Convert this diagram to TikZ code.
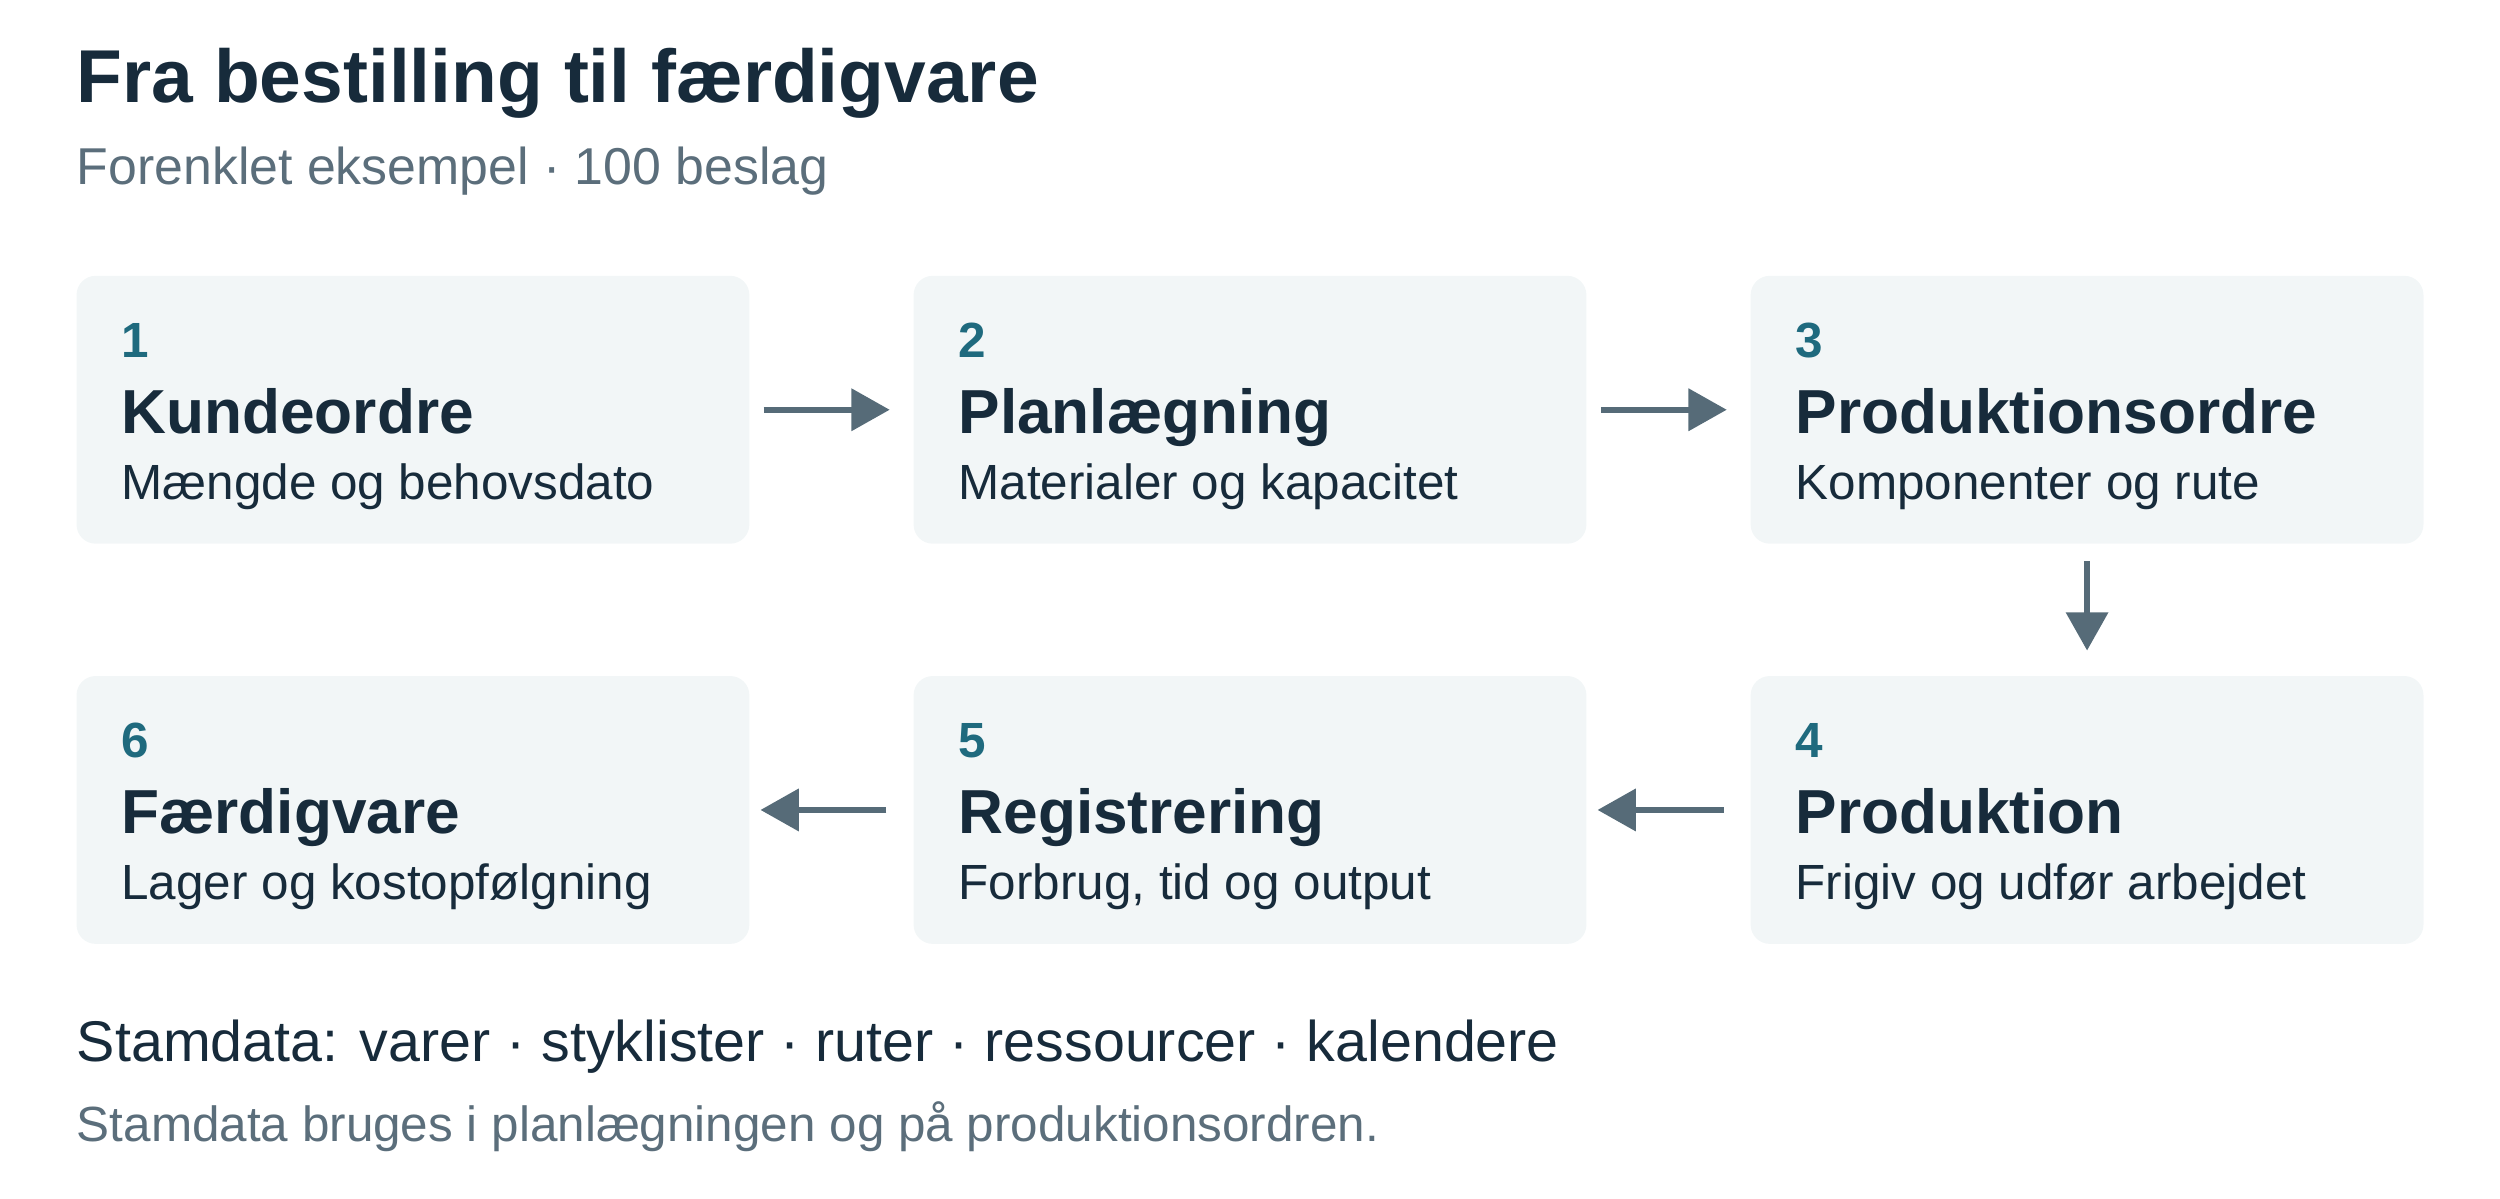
\documentclass[tikz,border=0pt]{standalone}
\usepackage{fontspec}
\setmainfont{Liberation Sans}
\usetikzlibrary{arrows.meta}
\definecolor{ink}{HTML}{172B3B}
\definecolor{sub}{HTML}{5B6E7B}
\definecolor{teal}{HTML}{1F6A7E}
\definecolor{boxf}{HTML}{F2F6F7}
\definecolor{arr}{HTML}{566B78}
\begin{document}
\begin{tikzpicture}[x=1pt,y=-1pt,
  box/.style={fill=boxf,rounded corners=12pt,draw=none},
  num/.style={anchor=base west,inner sep=0,text=teal,font=\fontsize{31}{33}\selectfont\bfseries},
  ttl/.style={anchor=base west,inner sep=0,text=ink,font=\fontsize{39}{42}\selectfont\bfseries},
  dsc/.style={anchor=base west,inner sep=0,text=ink,font=\fontsize{31}{33}\selectfont},
  flow/.style={draw=arr,line width=3.5pt,-{Triangle[length=24pt,width=26pt]}}]
\useasboundingbox (0,0) rectangle (1568,752);
\node[anchor=base west,inner sep=0,text=ink,font=\fontsize{47}{50}\selectfont\bfseries] (title) at (48,64) {Fra bestilling til færdigvare};
\node[anchor=base west,inner sep=0,text=sub,font=\fontsize{32.5}{35}\selectfont] (subt) at (48,116) {Forenklet eksempel · 100 beslag};
\foreach \id/\x/\y/\n/\t/\d in {
 b1/48/173/1/Kundeordre/Mængde og behovsdato,
 b2/573/173/2/Planlægning/Materialer og kapacitet,
 b3/1098/173/3/Produktionsordre/Komponenter og rute,
 b4/1098/424/4/Produktion/Frigiv og udfør arbejdet,
 b5/573/424/5/Registrering/{Forbrug, tid og output},
 b6/48/424/6/Færdigvare/Lager og kostopfølgning}{
  \path[box] (\x,\y) rectangle ++(422,168);
  \coordinate (\id-w) at (\x,\y+84);
  \coordinate (\id-e) at (\x+422,\y+84);
  \coordinate (\id-n) at (\x+211,\y);
  \coordinate (\id-s) at (\x+211,\y+168);
  \node[num] (\id-num) at (\x+28,\y+51) {\n};
  \node[ttl] (\id-ttl) at (\x+28,\y+99) {\t};
  \node[dsc] (\id-dsc) at (\x+28,\y+140) {\d};
}
\draw[flow] ([xshift=9pt]b1-e) -- ([xshift=-15pt]b2-w);
\draw[flow] ([xshift=9pt]b2-e) -- ([xshift=-15pt]b3-w);
\draw[flow] ([yshift=-11pt]b3-s) -- ([yshift=16pt]b4-n);
\draw[flow] ([xshift=-17pt]b4-w) -- ([xshift=7pt]b5-e);
\draw[flow] ([xshift=-17pt]b5-w) -- ([xshift=7pt]b6-e);
\node[anchor=base west,inner sep=0,text=ink,font=\fontsize{36}{38}\selectfont] (stam) at (48,666) {Stamdata: varer · styklister · ruter · ressourcer · kalendere};
\node[anchor=base west,inner sep=0,text=sub,font=\fontsize{31}{33}\selectfont] (note) at (48,716) {Stamdata bruges i planlægningen og på produktionsordren.};
\end{tikzpicture}
\end{document}
